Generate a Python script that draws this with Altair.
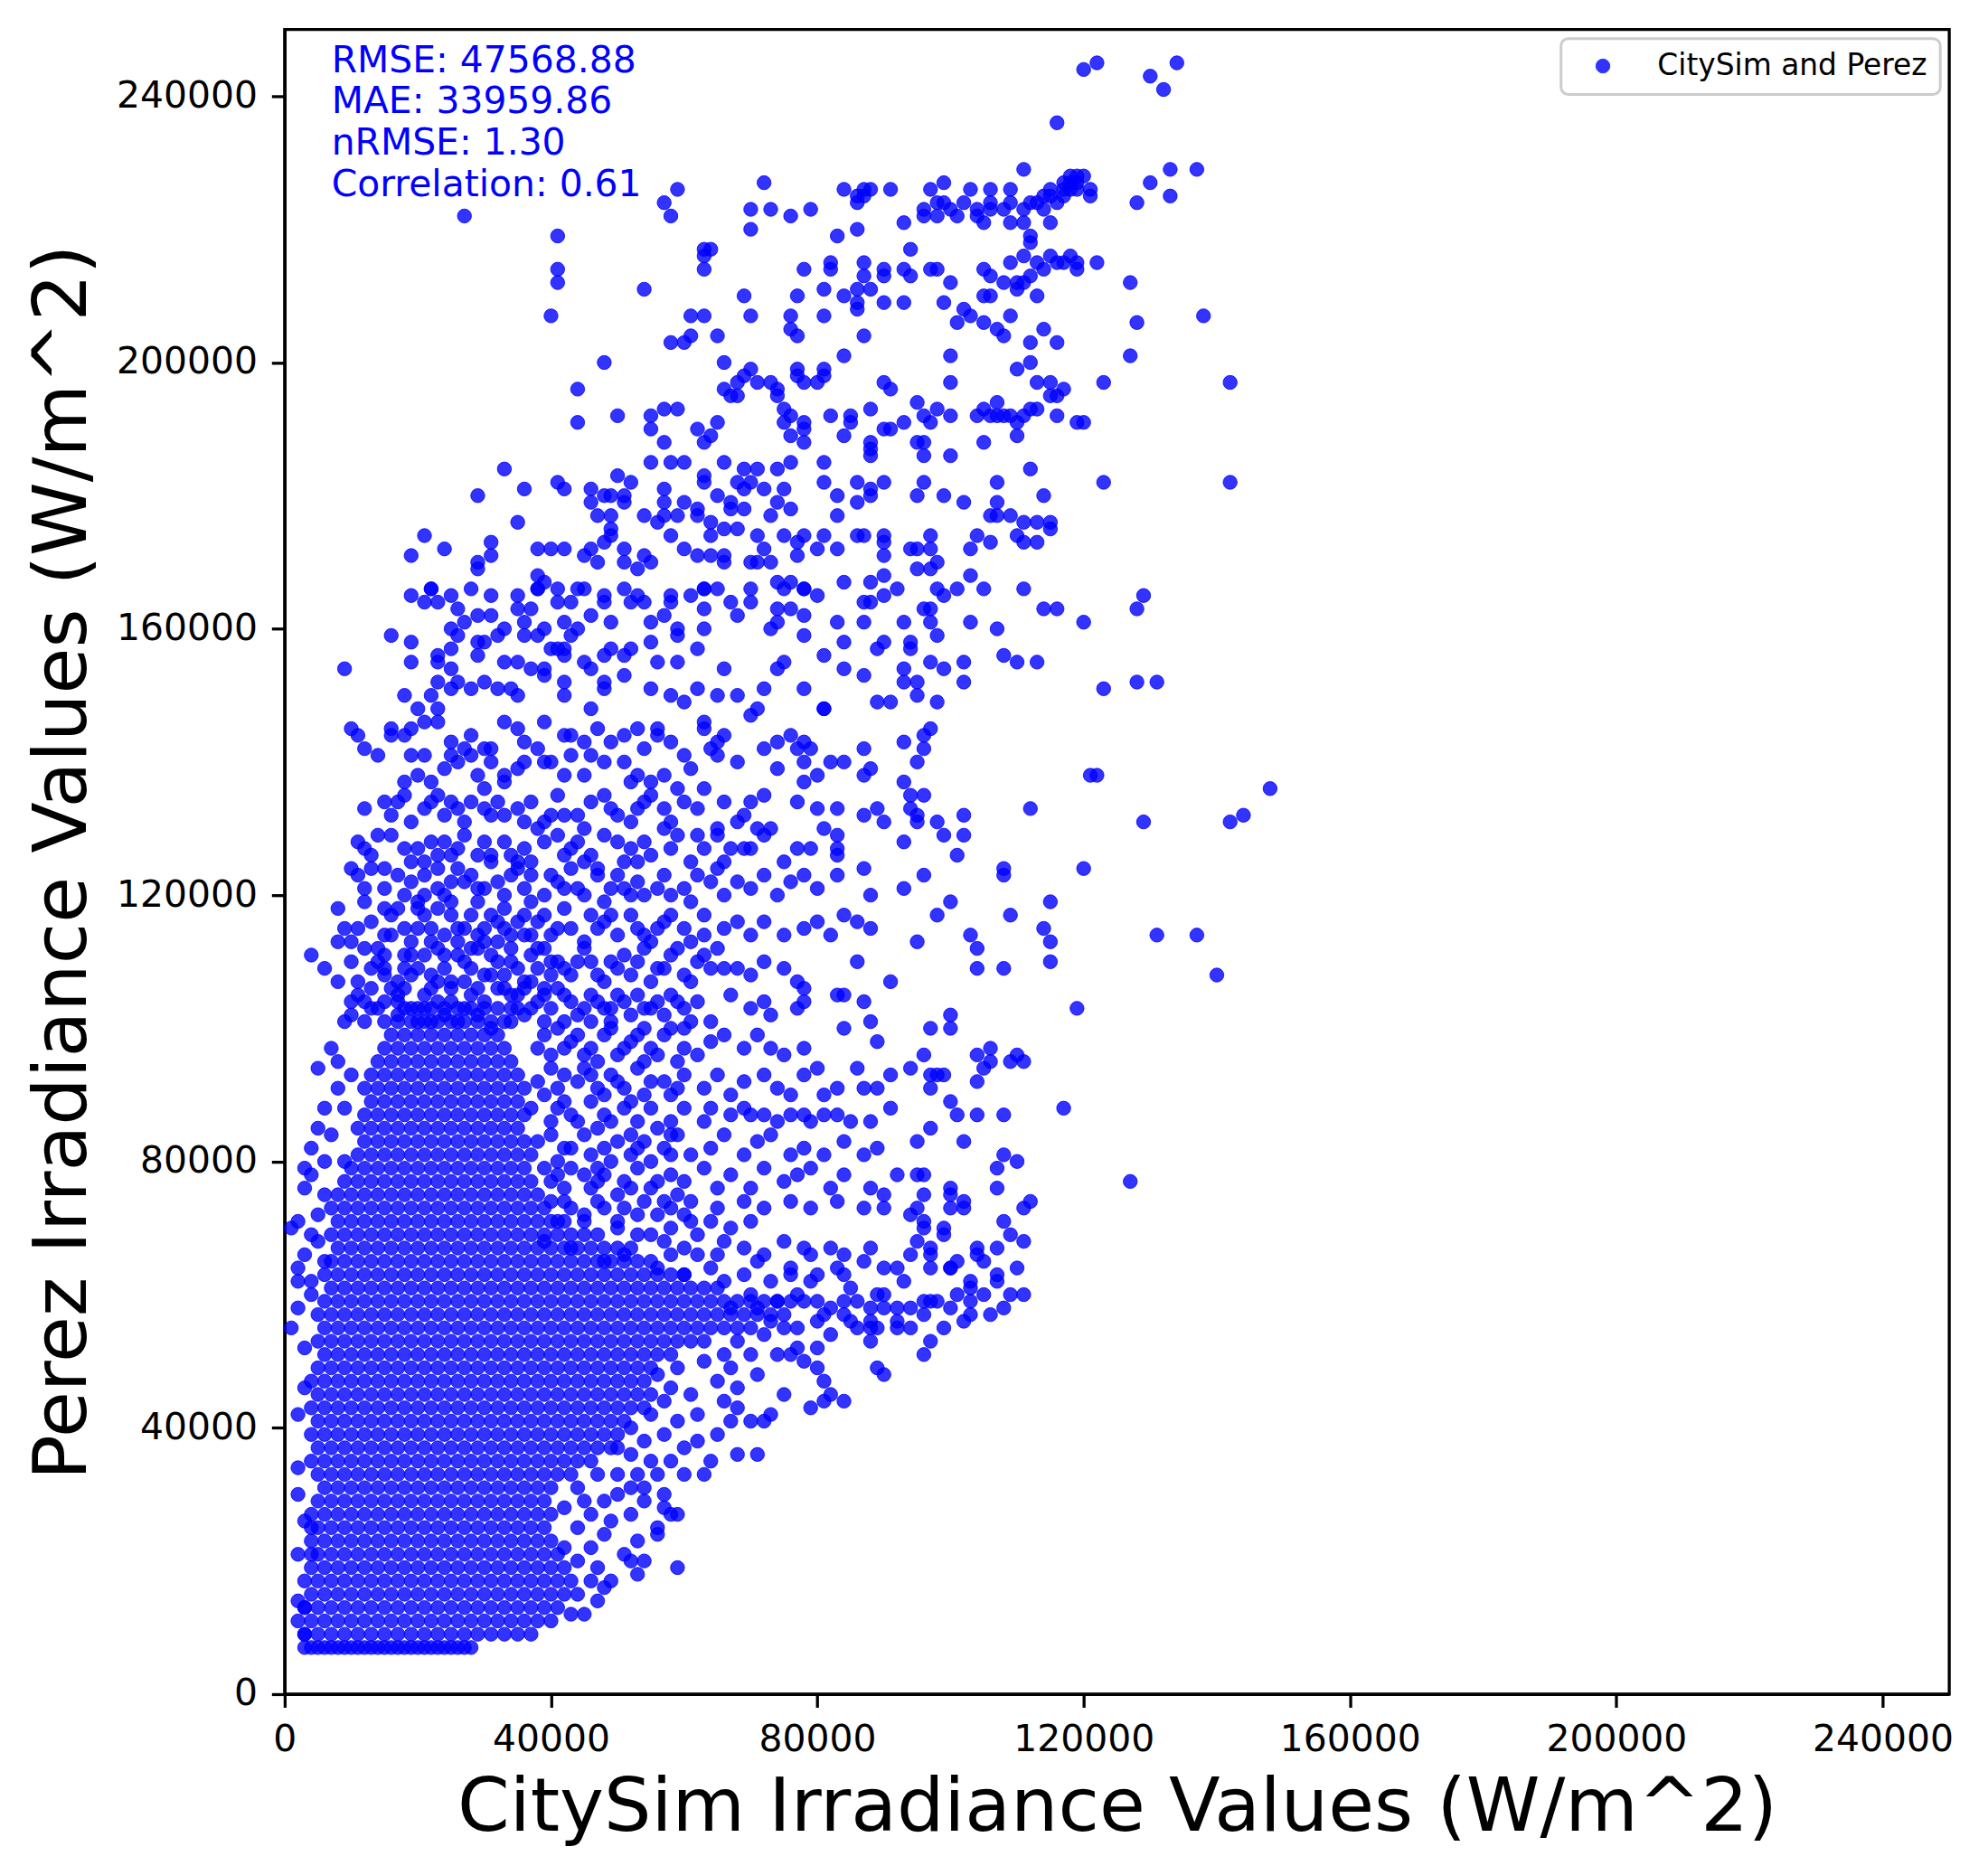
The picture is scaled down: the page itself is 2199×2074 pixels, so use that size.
import altair as alt
import pandas as pd

# Irradiance readings in thousands of W/m^2, stored as flat pairs:
# CitySim value, Perez value, CitySim value, Perez value, ...

# saturated core of the cloud (read row by row, Perez 7k - 29k)
core_low = [
    3,7, 4,7, 5,7, 6,7, 7,7, 8,7, 9,7, 10,7, 11,7, 12,7, 13,7, 14,7, 15,7, 16,7, 17,7, 18,7, 19,7, 20,7, 21,7, 22,7, 23,7, 24,7, 25,7, 26,7, 27,7, 28,7,
    3,9, 5,9, 7,9, 9,9, 11,9, 13,9, 15,9, 17,9, 19,9, 21,9, 23,9, 25,9, 27,9, 29,9, 31,9, 33,9, 35,9, 37,9,
    4,11, 6,11, 8,11, 10,11, 12,11, 14,11, 16,11, 18,11, 20,11, 22,11, 24,11, 26,11, 28,11, 30,11, 32,11, 34,11, 36,11, 38,11, 40,11,
    3,13, 5,13, 7,13, 9,13, 11,13, 13,13, 15,13, 17,13, 19,13, 21,13, 23,13, 25,13, 27,13, 29,13, 31,13, 33,13, 35,13, 37,13, 39,13, 41,13,
    4,15, 6,15, 8,15, 10,15, 12,15, 14,15, 16,15, 18,15, 20,15, 22,15, 24,15, 26,15, 28,15, 30,15, 32,15, 34,15, 36,15, 38,15, 40,15, 42,15,
    3,17, 5,17, 7,17, 9,17, 11,17, 13,17, 15,17, 17,17, 19,17, 21,17, 23,17, 25,17, 27,17, 29,17, 31,17, 33,17, 35,17, 37,17, 39,17, 41,17, 43,17,
    4,19, 6,19, 8,19, 10,19, 12,19, 14,19, 16,19, 18,19, 20,19, 22,19, 24,19, 26,19, 28,19, 30,19, 32,19, 34,19, 36,19, 38,19, 40,19, 42,19,
    5,21, 7,21, 9,21, 11,21, 13,21, 15,21, 17,21, 19,21, 21,21, 23,21, 25,21, 27,21, 29,21, 31,21, 33,21, 35,21, 37,21, 39,21, 41,21,
    4,23, 6,23, 8,23, 10,23, 12,23, 14,23, 16,23, 18,23, 20,23, 22,23, 24,23, 26,23, 28,23, 30,23, 32,23, 34,23, 36,23, 38,23, 40,23,
    5,25, 7,25, 9,25, 11,25, 13,25, 15,25, 17,25, 19,25, 21,25, 23,25, 25,25, 27,25, 29,25, 31,25, 33,25, 35,25, 37,25, 39,25,
    4,27, 6,27, 8,27, 10,27, 12,27, 14,27, 16,27, 18,27, 20,27, 22,27, 24,27, 26,27, 28,27, 30,27, 32,27, 34,27, 36,27, 38,27, 40,27,
    5,29, 7,29, 9,29, 11,29, 13,29, 15,29, 17,29, 19,29, 21,29, 23,29, 25,29, 27,29, 29,29, 31,29, 33,29, 35,29, 37,29, 39,29,
]

# saturated core, Perez 31k - 59k (includes the start of the horizontal band)
core_mid = [
    6,31, 8,31, 10,31, 12,31, 14,31, 16,31, 18,31, 20,31, 22,31, 24,31, 26,31, 28,31, 30,31, 32,31, 34,31, 36,31, 38,31, 40,31,
    5,33, 7,33, 9,33, 11,33, 13,33, 15,33, 17,33, 19,33, 21,33, 23,33, 25,33, 27,33, 29,33, 31,33, 33,33, 35,33, 37,33, 39,33, 41,33, 43,33,
    4,35, 6,35, 8,35, 10,35, 12,35, 14,35, 16,35, 18,35, 20,35, 22,35, 24,35, 26,35, 28,35, 30,35, 32,35, 34,35, 36,35, 38,35, 40,35, 42,35, 44,35, 46,35,
    5,37, 7,37, 9,37, 11,37, 13,37, 15,37, 17,37, 19,37, 21,37, 23,37, 25,37, 27,37, 29,37, 31,37, 33,37, 35,37, 37,37, 39,37, 41,37, 43,37, 45,37, 47,37, 49,37,
    4,39, 6,39, 8,39, 10,39, 12,39, 14,39, 16,39, 18,39, 20,39, 22,39, 24,39, 26,39, 28,39, 30,39, 32,39, 34,39, 36,39, 38,39, 40,39, 42,39, 44,39, 46,39, 48,39, 50,39,
    5,41, 7,41, 9,41, 11,41, 13,41, 15,41, 17,41, 19,41, 21,41, 23,41, 25,41, 27,41, 29,41, 31,41, 33,41, 35,41, 37,41, 39,41, 41,41, 43,41, 45,41, 47,41, 49,41, 51,41,
    4,43, 6,43, 8,43, 10,43, 12,43, 14,43, 16,43, 18,43, 20,43, 22,43, 24,43, 26,43, 28,43, 30,43, 32,43, 34,43, 36,43, 38,43, 40,43, 42,43, 44,43, 46,43, 48,43, 50,43, 52,43, 54,43,
    5,45, 7,45, 9,45, 11,45, 13,45, 15,45, 17,45, 19,45, 21,45, 23,45, 25,45, 27,45, 29,45, 31,45, 33,45, 35,45, 37,45, 39,45, 41,45, 43,45, 45,45, 47,45, 49,45, 51,45, 53,45, 55,45,
    4,47, 6,47, 8,47, 10,47, 12,47, 14,47, 16,47, 18,47, 20,47, 22,47, 24,47, 26,47, 28,47, 30,47, 32,47, 34,47, 36,47, 38,47, 40,47, 42,47, 44,47, 46,47, 48,47, 50,47, 52,47, 54,47,
    5,49, 7,49, 9,49, 11,49, 13,49, 15,49, 17,49, 19,49, 21,49, 23,49, 25,49, 27,49, 29,49, 31,49, 33,49, 35,49, 37,49, 39,49, 41,49, 43,49, 45,49, 47,49, 49,49, 51,49, 53,49, 55,49,
    6,51, 8,51, 10,51, 12,51, 14,51, 16,51, 18,51, 20,51, 22,51, 24,51, 26,51, 28,51, 30,51, 32,51, 34,51, 36,51, 38,51, 40,51, 42,51, 44,51, 46,51, 48,51, 50,51, 52,51, 54,51, 56,51, 58,51,
    5,53, 7,53, 9,53, 11,53, 13,53, 15,53, 17,53, 19,53, 21,53, 23,53, 25,53, 27,53, 29,53, 31,53, 33,53, 35,53, 37,53, 39,53, 41,53, 43,53, 45,53, 47,53, 49,53, 51,53, 53,53, 55,53, 57,53, 59,53, 61,53, 63,53,
    6,55, 8,55, 10,55, 12,55, 14,55, 16,55, 18,55, 20,55, 22,55, 24,55, 26,55, 28,55, 30,55, 32,55, 34,55, 36,55, 38,55, 40,55, 42,55, 44,55, 46,55, 48,55, 50,55, 52,55, 54,55, 56,55, 58,55, 60,55, 62,55, 64,55, 66,55, 68,55, 70,55,
    5,57, 7,57, 9,57, 11,57, 13,57, 15,57, 17,57, 19,57, 21,57, 23,57, 25,57, 27,57, 29,57, 31,57, 33,57, 35,57, 37,57, 39,57, 41,57, 43,57, 45,57, 47,57, 49,57, 51,57, 53,57, 55,57, 57,57, 59,57, 61,57, 63,57, 65,57, 67,57, 69,57, 71,57, 73,57, 75,57,
    6,59, 8,59, 10,59, 12,59, 14,59, 16,59, 18,59, 20,59, 22,59, 24,59, 26,59, 28,59, 30,59, 32,59, 34,59, 36,59, 38,59, 40,59, 42,59, 44,59, 46,59, 48,59, 50,59, 52,59, 54,59, 56,59, 58,59, 60,59, 62,59, 64,59, 66,59, 68,59, 70,59, 72,59, 74,59, 76,59,
]

# saturated core, Perez 61k - 103k
core_high = [
    7,61, 9,61, 11,61, 13,61, 15,61, 17,61, 19,61, 21,61, 23,61, 25,61, 27,61, 29,61, 31,61, 33,61, 35,61, 37,61, 39,61, 41,61, 43,61, 45,61, 47,61, 49,61, 51,61, 53,61, 55,61, 57,61, 59,61, 61,61, 63,61, 65,61,
    6,63, 8,63, 10,63, 12,63, 14,63, 16,63, 18,63, 20,63, 22,63, 24,63, 26,63, 28,63, 30,63, 32,63, 34,63, 36,63, 38,63, 40,63, 42,63, 44,63, 46,63, 48,63, 50,63, 52,63, 54,63, 56,63, 58,63, 60,63,
    7,65, 9,65, 11,65, 13,65, 15,65, 17,65, 19,65, 21,65, 23,65, 25,65, 27,65, 29,65, 31,65, 33,65, 35,65, 37,65, 39,65, 41,65, 43,65, 45,65, 47,65, 49,65, 51,65, 53,65, 55,65,
    8,67, 10,67, 12,67, 14,67, 16,67, 18,67, 20,67, 22,67, 24,67, 26,67, 28,67, 30,67, 32,67, 34,67, 36,67, 38,67, 40,67, 42,67, 44,67, 46,67, 48,67, 50,67,
    7,69, 9,69, 11,69, 13,69, 15,69, 17,69, 19,69, 21,69, 23,69, 25,69, 27,69, 29,69, 31,69, 33,69, 35,69, 37,69, 39,69, 41,69, 43,69, 45,69,
    8,71, 10,71, 12,71, 14,71, 16,71, 18,71, 20,71, 22,71, 24,71, 26,71, 28,71, 30,71, 32,71, 34,71, 36,71, 38,71, 40,71, 42,71,
    9,73, 11,73, 13,73, 15,73, 17,73, 19,73, 21,73, 23,73, 25,73, 27,73, 29,73, 31,73, 33,73, 35,73, 37,73, 39,73,
    8,75, 10,75, 12,75, 14,75, 16,75, 18,75, 20,75, 22,75, 24,75, 26,75, 28,75, 30,75, 32,75, 34,75, 36,75, 38,75,
    9,77, 11,77, 13,77, 15,77, 17,77, 19,77, 21,77, 23,77, 25,77, 27,77, 29,77, 31,77, 33,77, 35,77, 37,77,
    10,79, 12,79, 14,79, 16,79, 18,79, 20,79, 22,79, 24,79, 26,79, 28,79, 30,79, 32,79, 34,79, 36,79,
    11,81, 13,81, 15,81, 17,81, 19,81, 21,81, 23,81, 25,81, 27,81, 29,81, 31,81, 33,81, 35,81, 37,81,
    12,83, 14,83, 16,83, 18,83, 20,83, 22,83, 24,83, 26,83, 28,83, 30,83, 32,83, 34,83, 36,83,
    11,85, 13,85, 15,85, 17,85, 19,85, 21,85, 23,85, 25,85, 27,85, 29,85, 31,85, 33,85, 35,85,
    12,87, 14,87, 16,87, 18,87, 20,87, 22,87, 24,87, 26,87, 28,87, 30,87, 32,87, 34,87, 36,87,
    13,89, 15,89, 17,89, 19,89, 21,89, 23,89, 25,89, 27,89, 29,89, 31,89, 33,89, 35,89,
    12,91, 14,91, 16,91, 18,91, 20,91, 22,91, 24,91, 26,91, 28,91, 30,91, 32,91, 34,91, 36,91,
    13,93, 15,93, 17,93, 19,93, 21,93, 23,93, 25,93, 27,93, 29,93, 31,93, 33,93, 35,93,
    14,95, 16,95, 18,95, 20,95, 22,95, 24,95, 26,95, 28,95, 30,95, 32,95, 34,95,
    15,97, 17,97, 19,97, 21,97, 23,97, 25,97, 27,97, 29,97, 31,97, 33,97,
    16,99, 18,99, 20,99, 22,99, 24,99, 26,99, 28,99, 30,99, 32,99,
    17,101, 19,101, 21,101, 23,101, 25,101, 27,101, 29,101, 31,101, 33,101,
    18,103, 20,103, 22,103, 24,103, 26,103, 28,103, 30,103, 32,103,
]

# medium-density spread above and right of the core (CitySim < 92k)
spread_mid = [
    19,165, 22,166, 25,165, 28,166, 31,165, 35,165, 38,166, 41,166, 45,166, 48,165, 51,166, 53,165, 58,165, 61,165, 63,166, 65,166, 70,166, 75,166, 78,166, 80,165, 90,165,
    21,164, 23,164, 26,163, 29,162, 31,162, 35,163, 37,163, 41,164, 43,164, 46,162, 48,164, 52,164, 54,164, 57,162, 58,164, 63,163, 67,164, 70,164, 68,162, 74,163, 76,163, 78,162, 87,164, 88,164, 87,161, 83,161, 74,161, 73,160, 25,160, 27,161, 33,160, 36,161, 39,160, 42,161, 44,160, 49,161, 55,161, 59,160, 63,160,
    16,159, 19,158, 19,155, 23,155, 25,154, 23,156, 26,159, 29,158, 30,158, 32,159, 36,159, 38,159, 40,157, 42,157, 43,159, 42,156, 45,155, 48,156, 49,157, 51,156, 52,157, 55,158, 56,155, 59,155, 59,159, 62,157, 66,154, 68,150, 78,159, 81,156, 84,154, 84,158, 87,153, 89,157, 90,158, 75,155, 74,154, 25,157, 29,156, 33,155, 35,155, 37,154, 39,154, 41,157, 46,154, 51,153,
    9,154, 18,150, 20,148, 22,150, 23,152, 25,151, 26,152, 28,151, 30,152, 32,151, 34,151, 35,150, 39,153, 42,152, 42,150, 46,148, 48,151, 48,152, 55,151, 58,150, 60,149, 62,151, 65,150, 72,151, 78,151, 81,148, 89,149, 91,149,
    10,145, 11,144, 12,142, 14,141, 16,145, 16,144, 18,144, 19,145, 21,146, 23,148, 23,146, 25,143, 28,144, 30,142, 33,146, 35,145, 36,143, 38,142, 39,146, 42,144, 43,144, 45,143, 47,145, 49,143, 51,144, 53,145, 54,142, 56,145, 56,144, 58,143, 63,146, 63,145, 64,142, 66,144, 65,143, 71,148, 70,147, 74,143, 76,144, 78,143, 79,142, 81,148, 87,142, 25,141, 27,142, 31,142,
    19,141, 18,137, 20,138, 21,141, 22,137, 24,139, 26,140, 28,141, 29,138, 31,140, 33,138, 35,139, 36,140, 39,140, 40,140, 42,138, 43,141, 45,138, 46,141, 48,140, 51,140, 53,138, 55,137, 57,138, 60,141, 61,139, 65,141, 68,140, 72,142, 74,139, 77,142, 78,140, 78,137, 80,138, 82,140, 84,140, 87,138, 88,139, 52,137, 30,136, 33,137,
    15,134, 17,134, 16,132, 14,129, 18,135, 21,133, 22,134, 24,132, 25,134, 26,133, 28,134, 30,133, 31,132, 33,132, 35,133, 37,134, 39,131, 40,132, 42,132, 44,132, 46,134, 48,135, 50,132, 52,131, 54,134, 55,135, 57,133, 59,136, 60,134, 63,136, 65,130, 69,132, 70,134, 72,135, 73,130, 77,134, 80,133, 81,130, 83,133, 87,132, 89,133, 90,131, 83,129, 71,130, 68,131,
    11,128, 12,127, 18,127, 20,127, 22,128, 21,125, 24,128, 25,126, 26,127, 29,126, 31,126, 33,128, 35,125, 36,127, 38,130, 39,128, 42,126, 43,127, 45,125, 46,126, 48,129, 50,128, 52,127, 53,125, 54,128, 57,130, 59,129, 62,129, 63,127, 65,129, 67,127, 69,127, 70,127, 72,129, 75,125, 77,127, 79,127, 83,127, 83,126, 87,124,
    10,124, 11,123, 13,124, 15,121, 15,118, 18,120, 19,122, 21,123, 23,121, 25,122, 26,124, 28,123, 30,121, 32,122, 34,123, 36,121, 37,123, 40,123, 42,121, 43,124, 45,120, 47,123, 49,121, 51,121, 52,120, 54,120, 56,121, 58,120, 60,121, 62,123, 64,122, 66,120, 68,122, 70,121, 72,123, 74,120, 76,122, 78,123, 80,121, 83,123, 88,120,
    8,118, 11,115, 15,114, 18,115, 21,117, 22,115, 23,118, 24,114, 25,117, 27,115, 29,114, 31,117, 33,115, 34,114, 36,117, 38,116, 40,114, 42,118, 43,115, 46,117, 48,116, 50,114, 52,117, 54,114, 56,115, 58,117, 60,115, 63,117, 63,114, 65,112, 68,116, 70,114, 72,116, 75,114, 78,115, 80,116, 82,114, 84,117, 86,116, 88,115,
    4,111, 8,113, 10,113, 12,112, 15,111, 13,109, 8,107, 11,107, 15,108, 18,109, 20,109, 21,111, 23,112, 24,109, 26,111, 28,109, 29,112, 31,111, 33,108, 35,109, 37,111, 39,112, 40,108, 42,109, 44,110, 46,110, 48,107, 49,110, 51,111, 52,108, 54,112, 56,109, 58,111, 60,108, 62,110, 64,109, 66,109, 68,109, 70,108, 72,110, 75,109, 77,107, 78,106, 86,110, 91,107,
    10,104, 11,105, 13,103, 10,102, 12,101, 14,103, 16,106, 17,105, 18,106, 19,103, 21,105, 22,106, 23,104, 25,106, 27,103, 28,105, 30,104, 32,106, 34,105, 36,106, 37,103, 39,105, 41,106, 43,104, 45,103, 46,105, 48,103, 50,105, 52,102, 53,105, 55,103, 57,102, 58,105, 60,103, 62,104, 64,101, 67,105, 70,103, 72,104, 73,102, 77,103, 78,104, 83,105, 84,105, 87,104, 88,101,
    15,101, 17,102, 20,101, 22,101, 24,102, 26,101, 29,102, 31,100, 34,101, 36,102, 39,101, 42,101, 46,101, 49,101, 54,100, 60,100,
    39,99, 41,100, 42,97, 44,99, 46,97, 48,99, 49,100, 51,97, 53,99, 55,97, 57,99, 58,100, 60,97, 62,96, 64,98, 66,99, 69,97, 71,99, 73,97, 75,96, 78,97, 80,94, 84,100, 86,94, 89,98, 91,93,
    40,94, 42,93, 45,94, 47,91, 49,93, 51,91, 53,94, 55,92, 58,90, 60,93, 63,91, 65,93, 67,90, 69,92, 72,93, 74,91, 76,90, 78,93, 81,90, 83,91, 87,91, 89,91,
    39,90, 41,88, 43,87, 46,89, 48,87, 51,88, 53,86, 55,88, 58,86, 60,88, 63,86, 64,88, 67,87, 69,88, 70,87, 72,87, 74,86, 76,87, 78,87, 79,86, 81,87, 83,87, 85,86, 88,86, 91,88,
    40,84, 42,82, 45,84, 48,82, 50,83, 52,81, 54,83, 57,82, 59,84, 61,81, 64,82, 66,84, 69,81, 71,83, 73,84, 76,81, 78,82, 81,81, 84,83, 87,81, 89,82, 92,78,
    39,79, 41,78, 43,79, 46,76, 48,78, 51,77, 53,79, 55,76, 58,78, 60,77, 63,79, 65,76, 67,78, 70,76, 72,79, 75,77, 77,78, 79,79, 82,76, 84,78, 88,76, 90,75,
    40,74, 43,73, 47,74, 51,73, 54,74, 58,73, 61,74, 65,73, 69,74, 72,73, 76,74, 79,73, 83,74, 87,73, 90,73,
]

# extra readings where the cloud is thick, Perez 66k - 135k
spread_dense = [
    12,133, 19,131, 23,135, 27,131, 32,134, 36,131, 41,135, 45,130, 49,133, 53,133, 58,131, 62,133, 66,134,
    13,126, 16,129, 19,125, 23,126, 27,129, 30,128, 34,126, 37,125, 41,129, 44,128, 47,124, 51,125, 55,126, 58,127, 61,125, 66,125,
    12,119, 17,123, 20,119, 24,120, 27,122, 29,119, 33,120, 35,124, 39,120, 41,122, 44,121, 48,119, 50,123, 53,122, 57,123, 61,119, 65,124,
    9,115, 13,116, 16,117, 19,113, 20,118, 26,113, 28,117, 30,115, 32,113, 35,116, 37,114, 39,117, 41,115, 45,113, 47,115, 49,117, 53,115,
    55,113, 57,116, 61,113, 66,115,
    6,109, 10,110, 14,110, 17,107, 19,111, 22,108, 25,107, 27,110, 30,108, 32,110, 34,112, 36,107, 38,109, 41,110, 43,108, 45,112, 47,108,
    50,109, 53,110, 55,107, 57,109, 59,112, 61,107, 63,111,
    9,101, 12,104, 15,104, 34,103, 35,105, 38,104, 40,103, 42,105, 44,102, 47,104, 49,103, 51,104, 54,103, 56,104, 59,104, 61,101,
    13,106, 15,109, 17,104, 19,108, 21,103, 23,107, 25,104, 27,107, 29,106, 31,108, 33,106, 35,103, 37,107, 39,106, 14,112, 16,114,
    18,111, 20,115, 22,113, 24,111, 26,115, 28,112, 30,113, 32,116, 34,110, 36,114, 38,112, 40,110, 17,118, 21,120, 25,119, 29,121,
    33,118, 37,119, 12,121, 15,124, 23,124, 31,125,
    38,97, 40,96, 43,98, 45,96, 47,95, 50,96, 52,98, 54,95, 56,96, 59,95, 38,92, 41,91, 44,92, 46,93, 48,90, 50,92, 52,89, 54,90, 57,92,
    59,91, 37,88, 40,86, 42,89, 44,86, 47,85, 49,86, 52,84, 56,85, 58,84, 38,83, 41,80, 43,82, 46,81, 47,79, 49,80, 53,82, 55,80, 58,81,
    40,77, 42,76, 45,78, 47,77, 50,75, 52,76, 56,77, 59,75, 42,74, 45,72, 48,73, 50,71, 53,72, 57,74, 60,72, 47,69, 50,70, 52,67, 55,69,
    58,70, 61,71, 58,66, 62,66, 65,66,
]

# sparse upper part of the cloud (Perez above ~166k, CitySim < 92k)
spread_upper = [
    27,222, 59,226, 57,224, 58,222, 72,227, 70,223, 73,223, 70,220, 76,222, 79,223, 84,226, 87,226, 86,225, 87,225, 88,226, 86,224, 91,226,
    41,219, 83,219, 86,220, 87,215, 87,213, 82,214, 82,215, 78,214, 90,213, 90,214, 63,217, 64,217, 63,216, 63,214, 41,214, 41,212, 54,211,
    69,210, 70,207, 61,207, 63,207, 77,210, 81,211, 84,210, 86,211, 88,211, 90,209, 86,209, 86,208, 81,207, 76,207, 76,205, 77,204, 87,204,
    61,204, 58,203, 60,203, 65,204, 40,207, 48,200, 66,200, 70,199, 84,201, 77,199, 77,198, 78,197, 80,197, 81,199, 81,198, 68,197, 69,198,
    71,197, 73,197, 74,196, 74,195, 66,196, 67,195, 68,195, 44,196, 90,197, 91,196, 88,193, 82,192, 85,192, 85,191, 84,189, 55,192, 57,193,
    59,193, 50,192, 44,191, 55,190, 62,190, 65,191, 75,193, 76,192, 78,191, 78,190, 75,191, 76,189, 78,188, 88,188, 88,187, 88,186, 90,190,
    91,190, 57,188, 64,189, 63,188, 55,185, 58,185, 60,185, 66,185, 81,185, 76,185, 69,184, 71,184, 74,184, 33,184, 86,182, 90,182, 50,183,
    52,182, 41,182, 42,181, 46,181, 48,180, 49,180, 51,180, 51,179, 46,179, 57,181, 63,182, 63,183, 68,182, 70,182, 69,181, 72,181, 75,181,
    76,178, 74,179, 73,177, 81,182, 83,180, 86,179, 88,180, 88,181, 83,177, 65,180, 67,179, 67,178, 69,178, 60,179, 57,179, 29,180, 36,181,
    35,176, 21,174, 19,171, 24,172, 31,173, 31,171, 29,170, 29,169, 38,172, 40,172, 42,172, 48,173, 46,172, 54,177, 56,176, 57,177, 59,177,
    62,178, 62,177, 64,176, 64,174, 66,175, 68,175, 47,177, 49,177, 49,175, 49,174, 58,174, 60,172, 62,171, 64,171, 66,170, 66,171, 71,174,
    72,172, 75,174, 77,173, 78,174, 81,174, 83,172, 80,172, 77,171, 86,174, 87,174, 90,174, 90,173, 90,171, 51,172, 51,170, 53,169, 54,171,
    55,170, 45,171, 47,170, 70,170, 71,170, 73,170, 22,166, 38,168, 38,166, 39,167, 44,166, 63,166, 74,167, 76,167, 78,166, 84,167, 88,167,
    90,168, 92,166,
]

# points with CitySim above ~92k
spread_right = [
    122,245, 120,244, 130,243, 132,241, 134,245, 116,236,
    93,221, 97,226, 99,227, 103,226, 106,226, 109,226, 111,229, 96,223, 98,224, 98,222, 96,222, 99,224, 100,223, 101,222, 102,224, 104,222,
    104,223, 105,221, 106,223, 106,224, 108,223, 109,224, 109,221, 111,221, 111,223, 115,221,
    112,224, 113,224, 114,225, 115,225, 117,226, 117,227, 118,227, 118,228, 119,228, 118,226, 117,225, 116,224, 115,226, 114,223, 119,227,
    119,226, 120,228, 130,227, 133,229, 137,229, 133,225, 128,224, 121,225, 121,226,
    94,217, 93,214, 94,213, 93,209, 112,219, 112,218, 111,216, 109,215, 113,215, 114,214, 115,216, 116,215, 117,215, 118,216, 119,215,
    119,214, 112,213, 113,210, 110,211, 110,212, 111,212, 108,212, 105,210, 106,210, 105,214, 106,213, 100,212, 99,209, 109,207, 102,208,
    103,207, 101,206, 105,206, 107,205, 108,204, 114,205, 116,203, 112,203, 112,200, 100,201, 97,214, 98,214, 122,215, 127,212, 138,207,
    128,206, 127,201,
    110,199, 113,197, 115,197, 115,195, 116,195, 117,196, 100,197, 107,194, 95,194, 96,192, 97,191, 98,193, 100,192, 104,192, 105,193,
    106,192, 107,192, 108,192, 109,192, 110,191, 111,192, 112,193, 113,193, 116,192, 119,191, 120,191, 93,191, 105,188, 110,189, 95,188,
    96,188, 96,186, 100,186, 112,184, 96,182, 107,182, 107,179, 95,180, 99,180, 102,179, 114,180, 104,174, 106,173, 103,172, 106,177,
    107,177, 109,177, 111,176, 113,176, 115,176, 115,175, 110,174, 111,173, 113,173, 97,174, 97,172, 95,172, 94,172, 98,170, 97,169,
    95,169, 103,168, 123,197, 142,197, 123,182, 142,182, 129,165, 128,163, 120,161, 105,166, 101,166, 111,166, 98,166, 99,165, 114,163,
    116,163, 96,163, 97,163, 103,161, 97,161, 107,160, 93,161,
    98,159, 94,157, 94,158, 97,155, 99,154, 102,155, 108,156, 110,155, 113,155, 102,152, 93,154, 93,152, 95,152, 95,150, 98,149, 96,144,
    97,145, 96,142, 95,140, 93,143, 93,137, 94,135, 96,135, 94,133, 95,132, 95,131, 102,132, 98,131, 99,129, 102,129, 101,126, 93,128,
    96,123, 93,121, 95,113, 123,151, 128,152, 131,152, 121,138, 122,138, 148,136, 112,133, 129,131, 142,131, 144,132, 120,124, 108,124,
    108,123, 115,119, 109,117, 100,119, 98,117, 114,115, 115,113, 115,110, 131,114, 137,114, 140,108, 103,114, 104,112, 104,109, 108,109,
    119,103, 100,102, 97,100, 100,100, 106,97, 96,96, 104,96, 106,95, 109,95, 110,96, 111,95, 94,94, 97,93, 98,93, 99,93, 105,94, 104,92,
    97,91, 100,89, 101,87, 104,87, 108,87, 117,88, 97,85, 95,83, 102,83, 108,81, 110,80, 107,79, 127,77, 95,78, 96,78, 100,76, 100,75,
    96,75, 107,76, 102,74, 102,73, 112,74, 111,73, 100,73, 108,71, 99,70, 111,68, 95,68, 97,67, 104,67, 94,72, 96,71, 95,73,
]

# horizontal band around Perez 55-65k and the lower-right fan
band_and_fan = [
    96,70, 99,69, 64,71, 67,70, 70,71, 56,72, 45,71, 41,71, 53,69, 57,68, 60,67, 62,69, 66,68, 69,67, 72,66, 75,68, 78,67, 82,67, 84,66,
    88,67, 90,64, 92,64, 94,66, 97,66, 100,64, 103,61, 105,65, 71,65, 76,64, 80,63, 84,63, 64,64, 60,63, 56,64, 51,66, 48,65, 43,67, 39,68,
    71,58, 74,59, 77,60, 80,59, 81,57, 84,59, 85,56, 88,58, 90,60, 92,58, 94,55, 97,59, 100,58, 103,59, 105,60, 103,57, 102,56, 89,55,
    86,55, 82,54, 80,52, 77,52, 75,55, 73,56, 79,62, 85,61, 89,60, 93,62, 97,64, 100,64, 104,66, 87,65, 83,64, 79,66, 76,63, 73,62, 69,63,
    66,62, 67,58, 70,60,
    107,67, 109,69, 110,64, 107,62, 111,60, 108,58, 109,60, 106,57, 101,60, 98,59, 96,59, 103,62, 101,65, 107,63,
    68,53, 72,54, 77,55, 78,59, 80,56, 82,58, 84,57, 86,59, 88,56, 90,58, 92,56, 94,58, 96,57,
    79,43, 81,44, 84,44, 90,48, 97,53, 99,55, 96,51, 88,53, 88,55, 92,55, 89,49, 81,47, 82,45, 75,45, 76,51, 78,50, 80,49,
    43,12, 45,12, 47,14, 48,16, 49,17, 52,20, 54,20, 53,18, 59,19, 47,19, 51,21, 53,23, 56,24, 56,25, 58,27, 59,27, 54,29, 52,27, 57,30,
    57,28, 52,31, 54,31, 60,33, 63,33, 64,35, 68,36, 71,36, 62,38, 65,39, 67,41, 70,41, 72,41, 73,42, 66,44, 68,43, 58,35, 60,37, 57,39,
    59,41, 62,42, 61,45, 65,47, 68,46, 71,48, 67,49, 74,51, 70,51, 66,51, 63,50, 59,49, 52,36, 55,35,
    44,15, 46,17, 44,20, 46,22, 48,24, 44,25, 46,27, 48,29, 42,28, 44,31, 50,30, 42,22, 45,29, 49,26, 50,33, 47,33, 53,33, 56,33, 50,37,
    54,38, 52,40, 55,42, 57,44, 58,46, 56,48,
]

# points hugging the left axis
left_edge = [
    1,55, 2,62, 4,62, 2,64, 2,71, 3,46, 2,34, 3,26, 4,25, 4,21, 3,13, 3,9, 5,85, 5,94, 7,97, 7,84, 3,79, 3,76, 8,95, 9,88, 4,78, 6,80,
    3,66, 4,60, 5,68, 5,72, 6,75, 1,70, 8,91, 10,93, 6,88, 4,82, 9,80, 7,73, 4,69, 6,65, 2,58, 3,52, 2,42, 2,30, 2,21, 2,14, 2,11,
]

stats_lines = ["RMSE: 47568.88", "MAE: 33959.86", "nRMSE: 1.30", "Correlation: 0.61"]
series_name = "CitySim and Perez"
tick_values = [0, 40000, 80000, 120000, 160000, 200000, 240000]


def pairs(flat):
    return list(zip(flat[0::2], flat[1::2]))


groups = [core_low, core_mid, core_high, spread_mid, spread_dense, spread_upper,
          spread_right, band_and_fan, left_edge]
rows = [p for g in groups for p in pairs(g)]
df = pd.DataFrame(rows, columns=["citysim", "perez"]) * 1000
df["series"] = series_name

blue = "#0000ff"
marker_size = 240

points = alt.Chart(df).mark_circle(
    size=marker_size, opacity=1, fillOpacity=0.8, stroke=blue, strokeWidth=1, strokeOpacity=0.8
).encode(
    x=alt.X("citysim:Q", title="CitySim Irradiance Values (W/m^2)",
            scale=alt.Scale(domain=[0, 250000], nice=False, zero=False),
            axis=alt.Axis(values=tick_values, format="d", labelFlush=False)),
    y=alt.Y("perez:Q", title="Perez Irradiance Values (W/m^2)",
            scale=alt.Scale(domain=[0, 250000], nice=False, zero=False),
            axis=alt.Axis(values=tick_values, format="d", labelFlush=False)),
    color=alt.Color("series:N", scale=alt.Scale(range=[blue]),
                    legend=alt.Legend(title=None, orient="top-right", offset=10)),
)

stats = alt.Chart(pd.DataFrame({"text": ["\n".join(stats_lines)]})).mark_text(
    align="left", baseline="top", lineBreak="\n", lineHeight=46, fontSize=41, color=blue
).encode(x=alt.value(52), y=alt.value(15), text="text:N")

chart = alt.layer(points, stats).properties(
    width=1848, height=1848,
    padding={"left": 308, "top": 21, "right": 35, "bottom": 197},
    autosize=alt.AutoSizeParams(type="none"),
).configure(
    font="DejaVu Sans"
).configure_view(
    stroke="black", strokeWidth=3.3
).configure_axis(
    grid=False, domainColor="black", domainWidth=3.3, tickColor="black", tickWidth=3.3,
    tickSize=14.6, labelFontSize=41, labelColor="black", labelPadding=16,
    titleFontSize=83, titleFontWeight="normal", titleColor="black",
    labelFont="DejaVu Sans", titleFont="DejaVu Sans",
).configure_axisX(
    titlePadding=15
).configure_axisY(
    titlePadding=17
).configure_legend(
    padding=14, cornerRadius=8, fillColor="white", strokeColor="#cccccc", strokeWidth=3,
    labelFontSize=33, labelColor="black", labelFont="DejaVu Sans", labelLimit=600,
    symbolType="circle", symbolSize=marker_size, symbolFillColor=blue, symbolStrokeColor=blue,
    symbolStrokeWidth=1, symbolOpacity=0.8, symbolOffset=16, labelOffset=44,
)

chart.save("out.html", embed_options={"renderer": "svg", "actions": False})
